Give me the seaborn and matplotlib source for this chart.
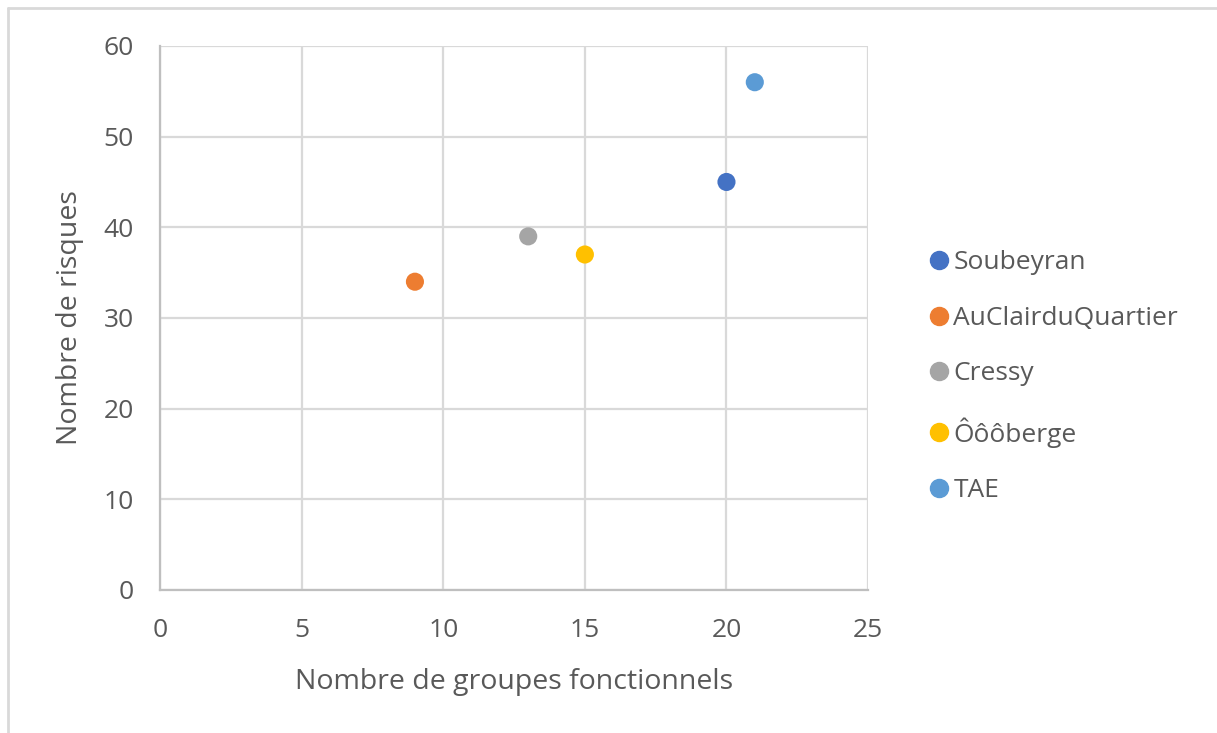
import matplotlib.pyplot as plt
import seaborn as sns
import pandas as pd
from matplotlib.lines import Line2D

sites = ['Soubeyran', 'AuClairduQuartier', 'Cressy', 'Ôôôberge', 'TAE']
groupes = [20, 9, 13, 15, 21]
risques = [45, 34, 39, 37, 56]
colors = ['#4472C4', '#ED7D31', '#A5A5A5', '#FFC000', '#5B9BD5']

df = pd.DataFrame({'site': sites, 'groupes': groupes, 'risques': risques})

sns.set_style('white')
plt.rcParams['font.family'] = ['Open Sans', 'DejaVu Sans']
text_col = '#595959'
grid_col = '#D9D9D9'

fig = plt.figure(figsize=(12.17, 7.33), dpi=100)
ax = fig.add_axes([0.1315, 0.1951, 0.5818, 0.7422])

sns.scatterplot(data=df, x='groupes', y='risques', hue='site',
                palette=dict(zip(sites, colors)), s=170, edgecolor='none',
                ax=ax, legend=False, zorder=3)

ax.set_xlim(0, 25)
ax.set_ylim(0, 60)
ax.set_xticks(range(0, 26, 5))
ax.set_yticks(range(0, 61, 10))
ax.grid(True, color=grid_col, lw=1.6)
for side in ['top', 'right']:
    ax.spines[side].set_visible(False)
for side in ['left', 'bottom']:
    ax.spines[side].set_color('#BFBFBF')
    ax.spines[side].set_linewidth(1.6)
ax.tick_params(length=0, labelsize=19, labelcolor=text_col)
ax.tick_params(axis='x', pad=20)
ax.tick_params(axis='y', pad=19)
ax.set_xlabel('Nombre de groupes fonctionnels', fontsize=20.5, color=text_col, labelpad=18)
ax.set_ylabel('Nombre de risques', fontsize=20.5, color=text_col, labelpad=14)

handles = [Line2D([], [], marker='o', ls='', color=c, markersize=13) for c in colors]
fig.legend(handles, sites, loc='upper left', bbox_to_anchor=(0.741, 0.691),
           frameon=False, fontsize=19, labelcolor=text_col,
           handletextpad=0.05, labelspacing=1.16, handlelength=1.0)

# outer chart frame (top and left edges visible)
fig.add_artist(Line2D([8 / 1217, 1], [1 - 8 / 733, 1 - 8 / 733], color='#D9D9D9', lw=2,
                      transform=fig.transFigure))
fig.add_artist(Line2D([8 / 1217, 8 / 1217], [0, 1 - 8 / 733], color='#D9D9D9', lw=2,
                      transform=fig.transFigure))

fig.savefig('out.png', dpi=100)
